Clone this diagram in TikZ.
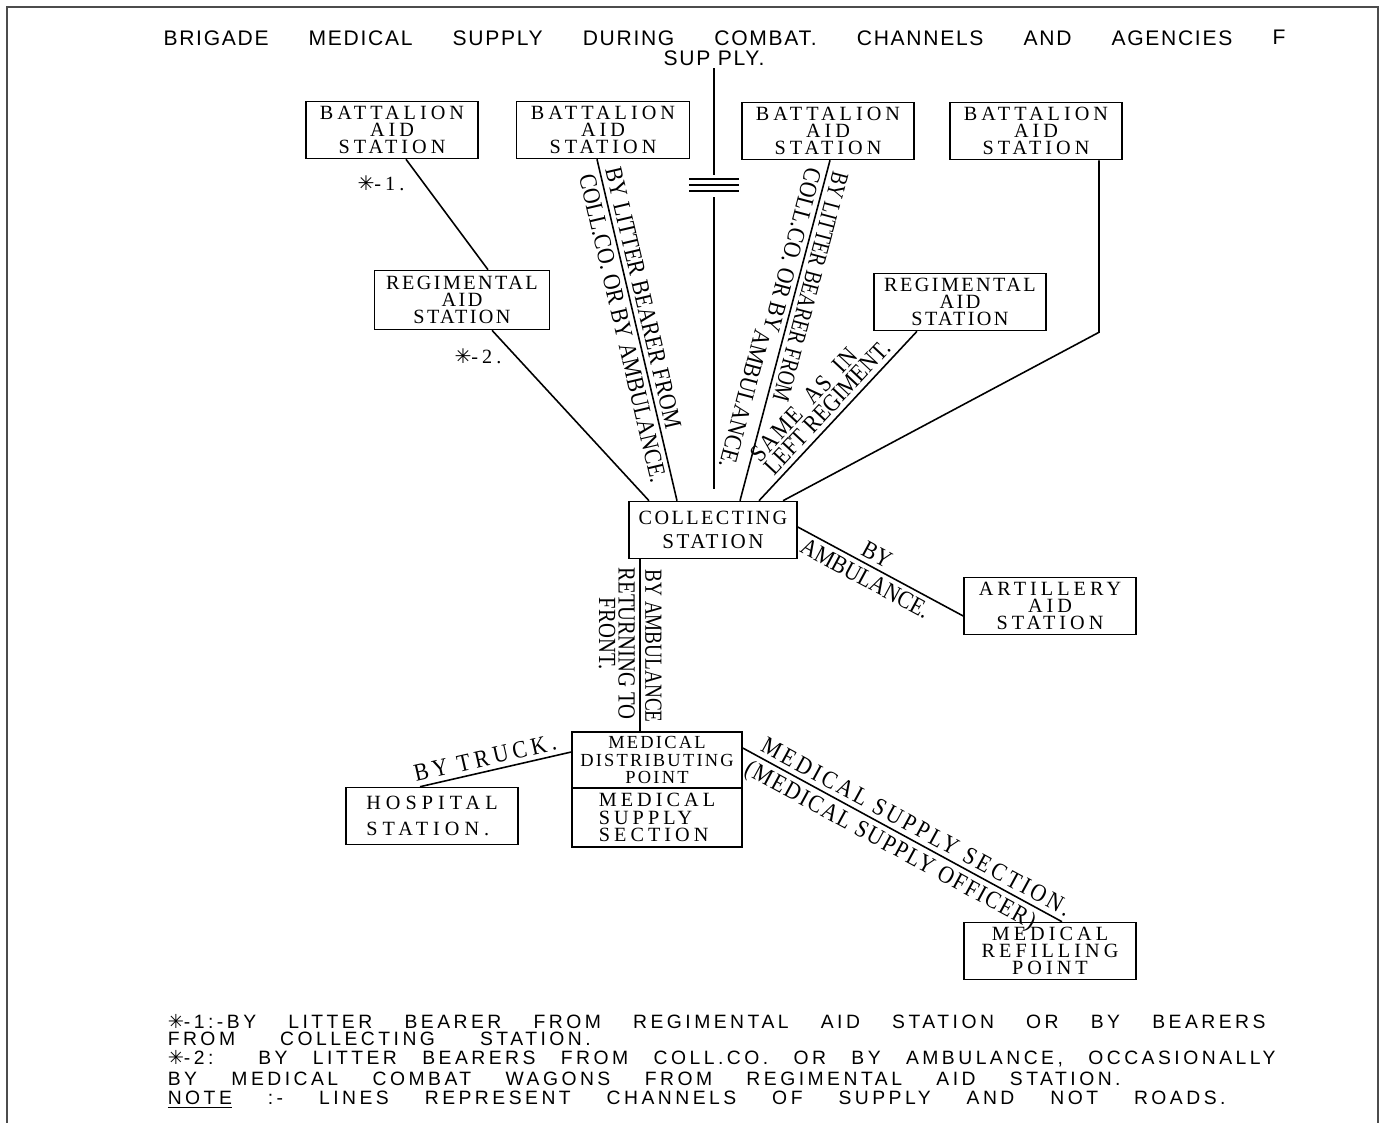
\documentclass[tikz,border=0pt]{standalone}
\usepackage{fontspec}
\setmainfont{Liberation Serif}
\setsansfont{Liberation Sans}
\newfontfamily\symfont{DejaVu Sans}
\usetikzlibrary{calc}

\newcommand\boxfont{\rmfamily\fontsize{11.5}{9.9}\selectfont\addfontfeatures{LetterSpace=20}}
\newcommand\linefont{\rmfamily\fontsize{14}{11}\selectfont\addfontfeatures{FakeStretch=0.88}}
\newcommand\headfont{\sffamily\fontsize{12}{14}\selectfont\addfontfeatures{LetterSpace=8}}
\newcommand\notefont{\sffamily\fontsize{11}{12}\selectfont\addfontfeatures{LetterSpace=18}}
\newcommand\notestar{{\symfont ✳}}

\begin{document}
\begin{tikzpicture}[x=0.02cm,y=-0.02cm,line width=0.9pt,
	box/.style={draw,minimum width=3.44cm,minimum height=1.14cm,inner sep=0pt,align=center,font=\boxfont},
	lbl/.style={font=\linefont,inner sep=2.5pt,sloped},
	note/.style={anchor=west,inner sep=0pt,font=\notefont}]
	\useasboundingbox (0,0) rectangle (1384,1123);
	\draw[line width=1.2pt,black!70] (7,1123) -- (7,7) -- (1378,7) -- (1378,1123);

	\node[font=\headfont,inner sep=0pt] (head) at (698,38) {\makebox[21.38cm][s]{BRIGADE MEDICAL SUPPLY DURING COMBAT. CHANNELS AND AGENCIES}};
	\node[font=\headfont,inner sep=0pt] (headf) at (1279,37) {F};
	\node[font=\headfont,inner sep=1pt] (supply) at (714,58) {SUP PLY.};

	\node[box] (bat1) at (392,130) {BATTALION\\AID\\STATION};
	\node[box,minimum width=3.46cm] (bat2) at (603,130) {BATTALION\\AID\\STATION};
	\node[box] (bat3) at (828,131) {BATTALION\\AID\\STATION};
	\node[box] (bat4) at (1036,131) {BATTALION\\AID\\STATION};
	\node[box,minimum width=3.5cm,minimum height=1.18cm,font={\boxfont\addfontfeatures{LetterSpace=12}}] (reg1) at (462,300) {REGIMENTAL\\AID\\STATION};
	\node[box,font={\boxfont\addfontfeatures{LetterSpace=12}}] (reg2) at (960,302) {REGIMENTAL\\AID\\STATION};
	\node[box,minimum width=3.36cm,font={\boxfont\addfontfeatures{LetterSpace=12}}] (coll) at (713,530) {COLLECTING\\[4pt]{\large STATION}};
	\node[box] (art) at (1050,606) {ARTILLERY\\AID\\STATION};
	\node[box,minimum width=3.4cm,minimum height=1.12cm,font={\rmfamily\fontsize{10.5}{9.7}\selectfont\addfontfeatures{LetterSpace=12}}] (mdptop) at (657,760) {MEDICAL\\DISTRIBUTING\\POINT};
	\node[box,minimum width=3.4cm,minimum height=1.18cm,align=left] (mdpbot) at (657,817.5) {MEDICAL\\SUPPLY\\SECTION};
	\node[box,align=left,font={\boxfont\addfontfeatures{LetterSpace=25}}] (hosp) at (432,816) {HOSPITAL\\[5pt]STATION.};
	\node[box] (refill) at (1050,951) {MEDICAL\\REFILLING\\POINT};

	\node[font=\boxfont] (star1) at (381,183) {\notestar-1.};
	\node[font=\boxfont] (star2) at (478,356) {\notestar-2.};

	\draw ($(bat1.south)+(14,0)$) -- ($(reg1.north)+(26,0)$);
	\draw ($(reg1.south)+(30,0)$) -- ($(coll.north)+(-64,0)$);
	\draw ($(bat2.south)+(-6,0)$) -- ($(coll.north)+(-36,0)$)
		node[lbl,pos=0.02,anchor=south west] {BY LITTER BEARER FROM}
		node[lbl,pos=0.02,anchor=north west] {COLL.CO. OR BY AMBULANCE.};

	\coordinate (brk1) at (714,175);
	\coordinate (brk2) at (714,197);
	\draw (supply.south) -- (brk1);
	\draw (brk2) -- ($(coll.north)+(1,-12)$);
	\foreach \y in {179,185,191}
		\draw (689,\y) -- (739,\y);

	\draw ($(bat3.south)+(2,0)$) -- ($(coll.north)+(27,0)$)
		node[lbl,allow upside down,pos=0.01,anchor=south west,font={\linefont\addfontfeatures{FakeStretch=0.78}}] {BY LITTER BEARER FROM}
		node[lbl,allow upside down,pos=0.02,anchor=north west] {COLL.CO. OR BY}
		node[lbl,allow upside down,pos=0.5,anchor=north west,inner ysep=7pt] {AMBULANCE.};
	\draw ($(coll.north)+(46,0)$) -- ($(reg2.south)+(-43,0)$)
		node[lbl,pos=0.1,anchor=south west,align=left] {{\addfontfeatures{LetterSpace=6}SAME\ \ AS\ \ IN}\\LEFT REGIMENT.};
	\draw ($(bat4.south)+(63,0)$) -- ++(0,172) -- ($(coll.north)+(70,0)$);

	\draw ($(coll.east)+(0,-3)$) -- ($(art.west)+(0,10)$)
		node[lbl,pos=0.44,above] {BY}
		node[lbl,pos=0.04,anchor=north west] {AMBULANCE.};

	\coordinate (cs) at ($(coll.south)+(-73,0)$);
	\draw (cs) -- (cs |- mdptop.north)
		node[lbl,allow upside down,pos=0.03,anchor=south west,font={\linefont\addfontfeatures{FakeStretch=0.78}}] {BY AMBULANCE}
		node[lbl,allow upside down,pos=0.02,anchor=north west,align=left,font={\linefont\addfontfeatures{FakeStretch=0.84}}] {RETURNING TO\\\hspace*{0.6cm}FRONT.};

	\draw ($(hosp.north)+(-12,0)$) -- ($(mdptop.west)+(0,-8)$)
		node[lbl,pos=0.45,above,font={\linefont\addfontfeatures{LetterSpace=18}}] {BY TRUCK.};
	\draw ($(mdptop.east)+(0,-12)$) -- ($(refill.north)+(12,0)$)
		node[lbl,pos=0.03,anchor=south west,font={\linefont\addfontfeatures{LetterSpace=13}}] {MEDICAL SUPPLY SECTION.}
		node[lbl,pos=0.02,anchor=north west,font={\linefont\addfontfeatures{LetterSpace=7}}] {(MEDICAL SUPPLY OFFICER)};

	\node[note] (note1) at (167,1022) {\makebox[21.96cm][s]{\notestar-1:-BY LITTER BEARER FROM REGIMENTAL AID STATION OR BY BEARERS}};
	\node[note] (note2) at (167,1039) {\makebox[8.46cm][s]{FROM COLLECTING STATION.}};
	\node[note] (note3) at (167,1059) {\makebox[22.16cm][s]{\notestar-2: BY LITTER BEARERS FROM COLL.CO. OR BY AMBULANCE, OCCASIONALLY}};
	\node[note] (note4) at (167,1079) {\makebox[19.06cm][s]{BY MEDICAL COMBAT WAGONS FROM REGIMENTAL AID STATION.}};
	\node[note] (note5) at (167,1100) {\makebox[21.16cm][s]{\underline{NOTE} :- LINES REPRESENT CHANNELS OF SUPPLY AND NOT ROADS.}};
\end{tikzpicture}
\end{document}
